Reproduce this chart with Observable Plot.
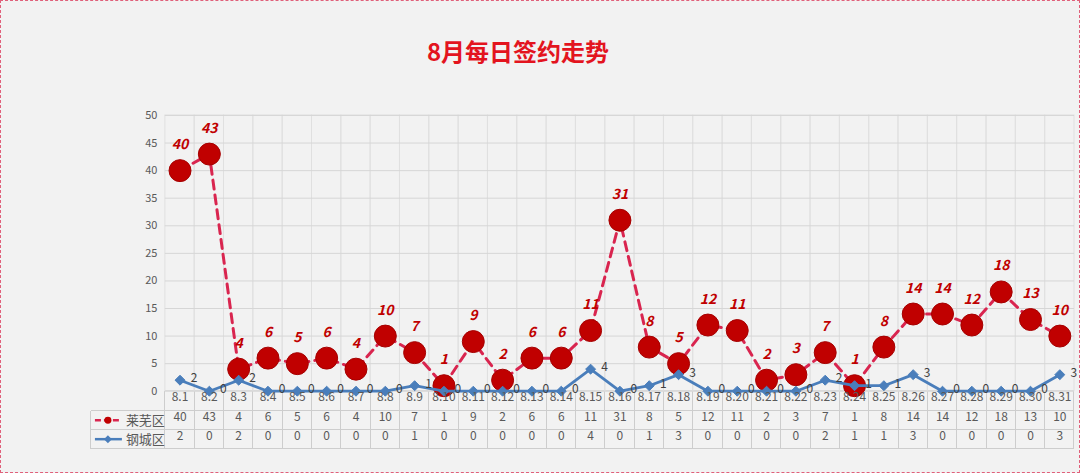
<!DOCTYPE html>
<html><head><meta charset="utf-8">
<script src="https://cdn.jsdelivr.net/npm/d3@7"></script>
<script src="https://cdn.jsdelivr.net/npm/@observablehq/plot@0.6"></script>
<style>
body{margin:0;background:#fff;}
#wrap{position:relative;width:1078px;height:471px;border:1px dashed #e0607a;background:#f2f2f2;overflow:hidden;font-family:"Noto Sans CJK SC","Noto Sans",sans-serif;}
#title{position:absolute;left:0;top:0;width:1034px;height:95px;line-height:100px;text-align:center;color:#e3141e;font-size:24px;font-weight:bold;}
#chart{position:absolute;left:-1px;top:94px;}
</style></head>
<body>
<div id="wrap"><div id="title">8月每日签约走势</div><div id="chart"></div></div>
<script>
const dates = ["8.1","8.2","8.3","8.4","8.5","8.6","8.7","8.8","8.9","8.10","8.11","8.12","8.13","8.14","8.15","8.16","8.17","8.18","8.19","8.20","8.21","8.22","8.23","8.24","8.25","8.26","8.27","8.28","8.29","8.30","8.31"];
const laiwu = [40,43,4,6,5,6,4,10,7,1,9,2,6,6,11,31,8,5,12,11,2,3,7,1,8,14,14,12,18,13,10];
const gangcheng = [2,0,2,0,0,0,0,0,1,0,0,0,0,0,4,0,1,3,0,0,0,0,2,1,1,3,0,0,0,0,3];
const seriesNames = ["莱芜区","钢城区"];
const yTicks = [0,5,10,15,20,25,30,35,40,45,50];

const rows = dates.map((d,i)=>({date:d, laiwu:laiwu[i], gangcheng:gangcheng[i]}));
const W = 1080, H = 378, MB = 82, ML = 165, MR = 5, MT = 20;
const font = "'Noto Sans CJK SC','Noto Sans',sans-serif";
const redLine = "#d9254f", redDot = "#c00000", blue = "#4a7ebb", gray = "#595959";

const plot = Plot.plot({
  width: W, height: H,
  marginTop: MT, marginBottom: MB, marginLeft: ML, marginRight: MR,
  style: {background: "transparent", fontFamily: font, fontSize: "11px", color: gray},
  x: {type: "band", domain: dates, padding: 0, round: false, axis: null},
  y: {domain: [0,50], ticks: yTicks, tickSize: 0, tickPadding: 8, label: null},
  marks: [
    Plot.barY(dates, {x: d=>d, y1: 0, y2: 50, fill: "none", stroke: "#e0e0e0", strokeWidth: 1}),
    Plot.ruleY(yTicks, {stroke: "#d6d6d6"}),
    Plot.line(rows, {x: "date", y: "laiwu", stroke: redLine, strokeWidth: 3, strokeDasharray: "9,6"}),
    Plot.dot(rows, {x: "date", y: "laiwu", r: 11, fill: redDot, stroke: "#a50000", strokeWidth: 1}),
    Plot.line(rows, {x: "date", y: "gangcheng", stroke: blue, strokeWidth: 2.8}),
    Plot.dot(rows, {x: "date", y: "gangcheng", symbol: "diamond2", r: 4.5, fill: blue, stroke: blue, strokeWidth: 1}),
    Plot.text(rows, {x: "date", y: "laiwu", text: d=>String(d.laiwu), dy: -26, fill: redDot, fontWeight: "bold", fontStyle: "italic", fontSize: 14}),
    Plot.text(rows, {x: "date", y: "gangcheng", text: d=>String(d.gangcheng), dx: 14, dy: -2, fill: "#404040", fontSize: 12}),
    Plot.text(dates, {x: d=>d, text: d=>d, frameAnchor: "bottom", dy: 10, fill: gray, fontSize: 12}),
    Plot.text(rows, {x: "date", text: d=>String(d.laiwu), frameAnchor: "bottom", dy: 29.5, fill: gray, fontSize: 12}),
    Plot.text(rows, {x: "date", text: d=>String(d.gangcheng), frameAnchor: "bottom", dy: 48.5, fill: gray, fontSize: 12})
  ]
});

// data table borders and legend keys, positioned from the plot's x scale
const xs = plot.scale("x");
const svg = d3.select(plot);
const y0 = H - MB;
const rowY = [y0, y0 + 20, y0 + 39, y0 + 58];
const left = 91, x0 = xs.range[0], x1 = xs.range[1];
const step = (x1 - x0) / xs.domain.length;
const g = svg.insert("g", ":first-child").attr("stroke", "#cdcdcd").attr("shape-rendering", "crispEdges");
g.append("line").attr("x1", x0).attr("x2", x1).attr("y1", rowY[0]).attr("y2", rowY[0]).attr("stroke", "#c8c8c8");
for (let k = 1; k < 4; k++) g.append("line").attr("x1", left).attr("x2", x1).attr("y1", rowY[k]).attr("y2", rowY[k]);
const bounds = d3.range(xs.domain.length + 1).map(i => x0 + i * step);
bounds.forEach(b => g.append("line").attr("x1", b).attr("x2", b).attr("y1", rowY[0]).attr("y2", rowY[3]));
g.append("line").attr("x1", left).attr("x2", left).attr("y1", rowY[1]).attr("y2", rowY[3]);

const lg = svg.append("g");
const cy1 = (rowY[1] + rowY[2]) / 2, cy2 = (rowY[2] + rowY[3]) / 2;
lg.append("line").attr("x1", 95).attr("x2", 122).attr("y1", cy1).attr("y2", cy1).attr("stroke", redLine).attr("stroke-width", 2.5).attr("stroke-dasharray", "6,3");
lg.append("circle").attr("cx", 108).attr("cy", cy1).attr("r", 3.5).attr("fill", redDot);
lg.append("line").attr("x1", 95).attr("x2", 122).attr("y1", cy2).attr("y2", cy2).attr("stroke", blue).attr("stroke-width", 2.5);
lg.append("path").attr("d", d3.symbol(d3.symbolDiamond2, 40)()).attr("transform", `translate(108,${cy2})`).attr("fill", blue);
[cy1, cy2].forEach((cy, i) => lg.append("text").attr("x", 126).attr("y", cy).attr("dy", "0.35em").attr("text-anchor", "start").attr("fill", gray).attr("font-size", 13).attr("font-family", font).text(seriesNames[i]));

document.getElementById("chart").appendChild(plot);
</script>
</body></html>
